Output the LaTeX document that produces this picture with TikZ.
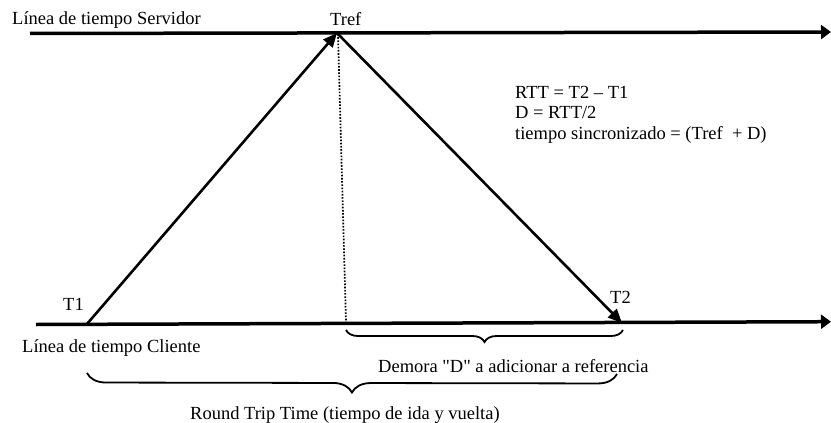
\documentclass[tikz,border=0pt]{standalone}
\usepackage{fontspec}
\setmainfont{Liberation Serif}[Ligatures=TeXOff]
\usetikzlibrary{arrows.meta,decorations.pathreplacing}
\begin{document}
\begin{tikzpicture}[x=1pt,y=-1pt,
  lbl/.style={anchor=base west,inner sep=0pt,font=\fontsize{18.5}{21}\selectfont},
  timeline/.style={line width=3.5pt,-{Triangle[length=10pt,width=14pt]}},
  msg/.style={line width=2.6pt,-{Triangle[length=14pt,width=12pt]}},
  bracestyle/.style={line width=1.8pt,decorate,decoration={brace,mirror}}]
\useasboundingbox[fill=white] (0,0) rectangle (831,423);
% timeline endpoints
\coordinate (Ss) at (30,33.5);
\coordinate (Se) at (831,32);
\coordinate (Cs) at (36,324.5);
\coordinate (Ce) at (831,321.7);
\coordinate (T1p) at (87,324);
\coordinate (Trefp) at (337,33);
\coordinate (T2p) at (622,323);
\coordinate (Dtop) at (338,34);
\coordinate (Dbot) at (346,322);
\coordinate (B1s) at (346,330);
\coordinate (B1e) at (623,330);
\coordinate (B2s) at (87,373);
\coordinate (B2e) at (617,374);
% lines
\draw[timeline] (Ss) -- (Se);
\draw[timeline] (Cs) -- (Ce);
\draw[msg] (T1p) -- (Trefp);
\draw[msg] (Trefp) -- (T2p);
\draw[line width=1.7pt,dash pattern=on 1.6pt off 1.6pt] (Dtop) -- (Dbot);
\draw[bracestyle,decoration={amplitude=12pt}] (B1s) -- (B1e);
\draw[bracestyle,decoration={amplitude=19pt}] (B2s) -- (B2e);
% labels
\node[lbl] (serv) at (12,24) {Línea de tiempo Servidor};
\node[lbl] (tref) at (330,25) {Tref};
\node[lbl] (t1) at (63,310) {T1};
\node[lbl] (t2) at (610,303) {T2};
\node[lbl] (cli) at (22,352) {Línea de tiempo Cliente};
\node[lbl] (dem) at (378,372) {Demora "D" a adicionar a referencia};
\node[lbl] (rtt) at (190,419) {Round Trip Time (tiempo de ida y vuelta)};
\node[lbl] (f1) at (515,98) {RTT = T2 – T1};
\node[lbl] (f2) at (515,118.5) {D = RTT/2};
\node[lbl] (f3) at (515,139) {tiempo sincronizado = (Tref~ + D)};
\end{tikzpicture}
\end{document}
